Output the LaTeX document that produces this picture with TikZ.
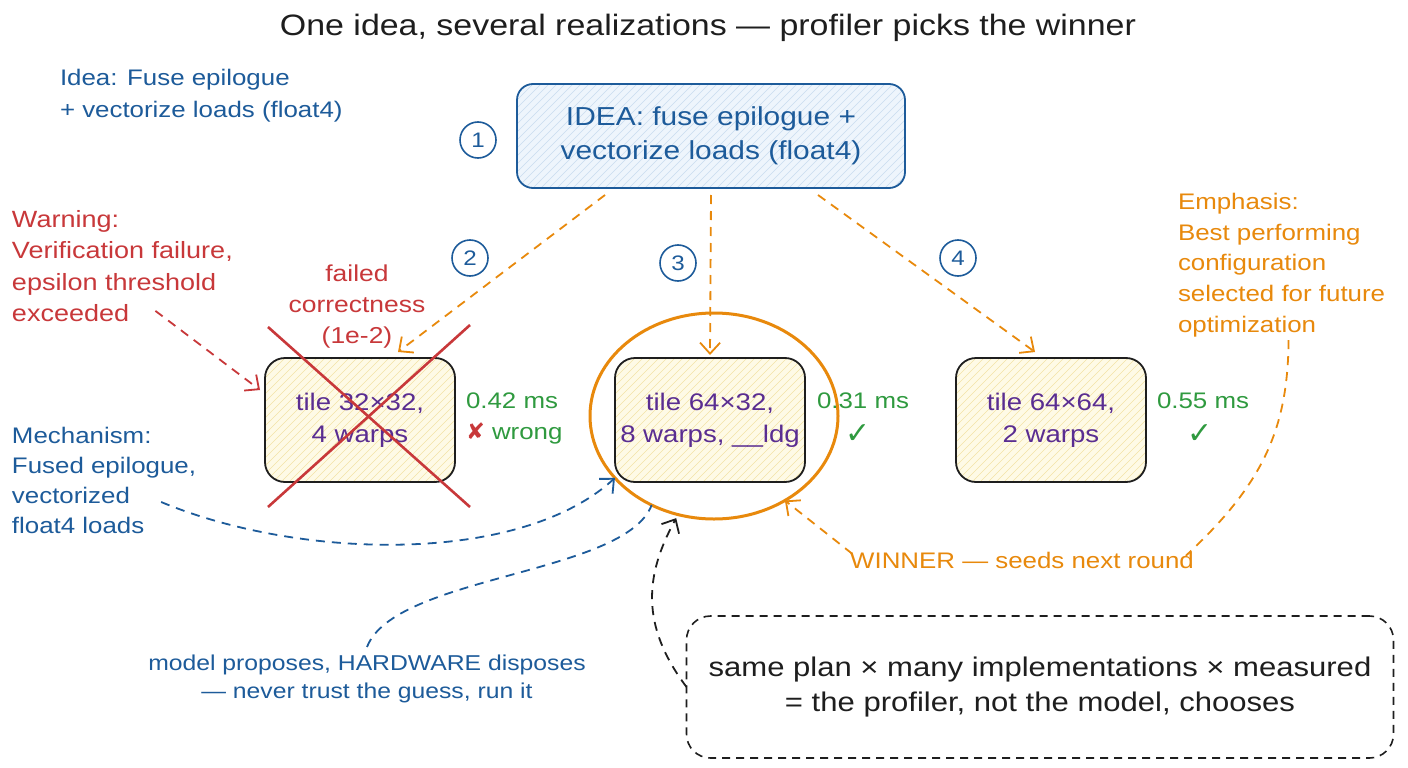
\documentclass[tikz,border=0pt]{standalone}
\usepackage{fontspec}
\setmainfont[FakeStretch=1.15]{Liberation Sans}
\newfontfamily\symf{DejaVu Sans}
\usetikzlibrary{arrows.meta,shapes.geometric,calc}
\definecolor{cblue}{HTML}{1D5B9A}
\definecolor{cred}{HTML}{C8383A}
\definecolor{cgreen}{HTML}{2F9A3F}
\definecolor{corange}{HTML}{E8890C}
\definecolor{cpurple}{HTML}{5A2D91}
\definecolor{cdark}{HTML}{1E1E1E}
\definecolor{ideafill}{HTML}{EEF5FC}
\definecolor{ideahatch}{HTML}{C9DCEF}
\definecolor{tilefill}{HTML}{FEFAE6}
\definecolor{tilehatch}{HTML}{F2E2A6}
\tikzset{
  every node/.style={inner sep=0pt, outer sep=0pt},
  hatch/.style={path picture={\foreach \i in {-400,-392,...,400}{\draw[#1,line width=0.6pt] ([xshift=\i pt]path picture bounding box.south west) -- ++(300pt,300pt);}}},
  ideabox/.style={draw=cblue, line width=1.8pt, rounded corners=16pt, fill=ideafill, hatch=ideahatch,
    minimum width=388, minimum height=104, text=cblue, align=center, font=\fontsize{26}{34}\selectfont},
  tilebox/.style={draw=cdark, line width=1.8pt, rounded corners=20pt, fill=tilefill, hatch=tilehatch,
    minimum width=190, minimum height=124, text=cpurple, align=center, font=\fontsize{24}{32}\selectfont},
  num/.style={circle, draw=cblue, line width=1.6pt, minimum size=36, text=cblue, font=\fontsize{21}{21}\selectfont},
  arr/.style={-{Straight Barb[length=11pt,width=20pt]}, line width=1.8pt, dash pattern=on 9pt off 7pt},
  dashline/.style={line width=1.8pt, dash pattern=on 9pt off 7pt},
  txt/.style={font=\fontsize{22.5}{31}\selectfont},
  notebox/.style={draw=cdark, line width=1.6pt, dash pattern=on 8pt off 6pt, rounded corners=24pt,
    minimum width=707, minimum height=142, align=center, text=cdark, font=\fontsize{27}{35}\selectfont}
}
\begin{document}
\begin{tikzpicture}[x=1pt,y=-1pt]
\useasboundingbox[fill=white] (0,0) rectangle (1408,768);

\node[font=\fontsize{29.5}{34}\selectfont, text=cdark] (title) at (708,28) {One idea, several realizations — profiler picks the winner};

\node[txt, text=cblue, anchor=west, align=left, font=\fontsize{22.5}{32}\selectfont] (ideanote) at (60,96) {Idea: Fuse epilogue\\+ vectorize loads (float4)};

\node[ideabox] (idea) at (711,136) {IDEA: fuse epilogue +\\vectorize loads (float4)};

\node[num] (n1) at (478,140) {1};
\node[num] (n2) at (470,258) {2};
\node[num] (n3) at (678,263) {3};
\node[num] (n4) at (958,258) {4};

\node[tilebox] (A) at (360,420) {tile 32×32,\\4 warps};
\node[tilebox] (B) at (710,420) {tile 64×32,\\8 warps, \_\_ldg};
\node[tilebox] (C) at (1051,420) {tile 64×64,\\2 warps};

\node[draw=corange, line width=3pt, ellipse, minimum width=248, minimum height=206] (win) at (714,416) {};

\draw[cred, line width=2.6pt] ($(A)+(-92,-93)$) -- ($(A)+(110,87)$);
\draw[cred, line width=2.6pt] ($(A)+(110,-95)$) -- ($(A)+(-92,87)$);

\node[txt, text=cred, align=center, font=\fontsize{23}{31}\selectfont] (failed) at (357,307) {failed\\correctness\\(1e-2)};

\node[txt, text=cgreen, anchor=west] (tA) at (466,401) {0.42 ms};
\node[txt, anchor=west] (wA) at (466,434) {{\symf\color{cred}✘} \color{cgreen}wrong};
\node[txt, text=cgreen, anchor=west] (tB) at (817,401) {0.31 ms};
\node[text=cgreen, font=\symf\fontsize{30}{30}\selectfont] (cB) at (858,434) {✓};
\node[txt, text=cgreen, anchor=west] (tC) at (1157,401) {0.55 ms};
\node[text=cgreen, font=\symf\fontsize{30}{30}\selectfont] (cC) at (1200,434) {✓};

\node[txt, text=cred, anchor=west, align=left, font=\fontsize{23.5}{31.5}\selectfont] (warn) at (12,266) {Warning:\\Verification failure,\\epsilon threshold\\exceeded};
\node[txt, text=cblue, anchor=west, align=left, font=\fontsize{22.5}{30}\selectfont] (mech) at (12,480) {Mechanism:\\Fused epilogue,\\vectorized\\float4 loads};
\node[txt, text=corange, anchor=west, align=left, font=\fontsize{22.5}{30.8}\selectfont] (emph) at (1178,265) {Emphasis:\\Best performing\\configuration\\selected for future\\optimization};
\node[txt, text=cblue, align=center, font=\fontsize{21.5}{28}\selectfont] (model) at (367,679) {model proposes, HARDWARE disposes\\— never trust the guess, run it};
\node[txt, text=corange, font=\fontsize{22.5}{28}\selectfont] (winner) at (1022,560) {WINNER — seeds next round};
\node[notebox] (note) at (1040,687) {same plan × many implementations × measured\\= the profiler, not the model, chooses};

\draw[arr, corange] ([xshift=-106pt,yshift=-7pt]idea.south) -- ([xshift=38pt,yshift=6pt]A.north);
\draw[arr, corange] ([yshift=-7pt]idea.south) -- ([yshift=3pt]B.north);
\draw[arr, corange] ([xshift=107pt,yshift=-7pt]idea.south) -- ([xshift=-16pt,yshift=6pt]C.north);

\draw[arr, cred] ([xshift=33pt,yshift=11pt]warn.south) -- ([xshift=-5pt,yshift=30pt]A.west);
\draw[arr, cblue] ([xshift=-35pt,yshift=-22pt]mech.east) .. controls (300,560) and (520,565) .. (win.212);
\draw[dashline, cblue] ([yshift=8pt]model.north) .. controls (395,575) and (625,575) .. (win.235);
\draw[arr, cdark, shorten >=4pt] (note.west) .. controls (640,625) and (645,575) .. (win.250);
\draw[arr, corange] ([xshift=2pt,yshift=-2pt]winner.north west) -- (win.310);
\draw[dashline, corange] ([xshift=7pt,yshift=-3pt]emph.south) .. controls (1288,430) and (1262,485) .. ([xshift=-8pt,yshift=-4pt]winner.north east);
\end{tikzpicture}
\end{document}
